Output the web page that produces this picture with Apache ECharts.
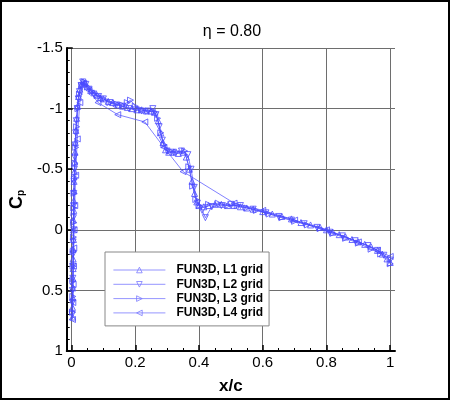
<!DOCTYPE html>
<html>
<head>
<meta charset="utf-8">
<script src="https://cdn.jsdelivr.net/npm/echarts@6/dist/echarts.min.js"></script>
<style>
html,body{margin:0;padding:0;background:#fff;}
#wrap{position:relative;width:450px;height:400px;}
#chart{width:450px;height:400px;}
#frame{position:absolute;left:0;top:0;width:450px;height:400px;box-sizing:border-box;border:2px solid #000;pointer-events:none;}
</style>
</head>
<body>
<div id="wrap"><div id="chart"></div><div id="frame"></div></div>
<script>
// ---- data (x/c, Cp) ----
const titleText = 'η = 0.80';
const seriesNames = ['FUN3D, L1 grid', 'FUN3D, L2 grid', 'FUN3D, L3 grid', 'FUN3D, L4 grid'];
const xTickLabels = [0, 0.2, 0.4, 0.6, 0.8, 1];
const xMinorTicks = [0.05, 0.1, 0.15, 0.25, 0.3, 0.35, 0.45, 0.5, 0.55, 0.65, 0.7, 0.75, 0.85, 0.9, 0.95];

const l1X = [0.003,0.003,0.004,0.004,0.004,0.005,0.005,0.005,0.006,0.006,0.006,0.007,0.007,0.008,0.008,0.009,0.01,0.011,0.012,0.014,0.016,0.019,0.022,0.026,0.031,0.036,
  0.042,0.05,0.06,0.07,0.08,0.09,0.1,0.115,0.13,0.145,0.16,0.175,0.19,0.205,0.22,0.235,0.25,0.262,0.272,0.28,0.287,0.295,0.305,0.32,0.335,0.35,0.36,0.37,0.378,0.386,0.393,0.4,0.415,0.43,0.45,0.47,0.49,0.51,0.53,0.55,0.57,0.6,0.63,0.66,0.69,0.72,0.75,0.78,0.8,0.82,0.84,0.86,0.88,0.9,0.92,0.94,0.96,0.975,0.99,1.0];
const l1Cp = [0.72,0.64,0.56,0.48,0.40,0.32,0.24,0.16,0.08,0.0,-0.08,-0.16,-0.24,-0.32,-0.40,-0.48,-0.56,-0.64,-0.72,-0.82,-0.92,-1.02,-1.1,-1.16,-1.2,-1.22,
  -1.21,-1.18,-1.15,-1.13,-1.11,-1.09,-1.08,-1.06,-1.05,-1.03,-1.02,-1.01,-1.0,-0.99,-0.99,-0.98,-0.98,-0.97,-0.9,-0.8,-0.72,-0.66,-0.64,-0.64,-0.63,-0.64,-0.6,-0.5,-0.4,-0.3,-0.23,-0.2,-0.19,-0.2,-0.21,-0.21,-0.2,-0.2,-0.19,-0.18,-0.17,-0.15,-0.13,-0.11,-0.09,-0.06,-0.04,-0.02,0.0,0.02,0.04,0.06,0.08,0.1,0.12,0.14,0.17,0.2,0.24,0.27];

const l2X = [0.002,0.003,0.003,0.004,0.004,0.005,0.005,0.006,0.006,0.007,0.007,0.008,0.009,0.01,0.011,0.013,0.015,0.018,0.021,0.025,0.03,0.035,
  0.045,0.055,0.07,0.085,0.1,0.12,0.14,0.16,0.18,0.2,0.22,0.24,0.255,0.265,0.275,0.285,0.3,0.32,0.345,0.365,0.375,0.385,0.395,0.41,0.42,0.44,0.47,0.5,0.53,0.57,0.61,0.65,0.69,0.73,0.77,0.81,0.85,0.89,0.93,0.96,0.98,1.0];
const l2Cp = [0.7,0.6,0.5,0.4,0.3,0.2,0.1,0.0,-0.1,-0.2,-0.3,-0.4,-0.5,-0.6,-0.7,-0.8,-0.9,-1.0,-1.08,-1.14,-1.19,-1.22,
  -1.2,-1.16,-1.12,-1.1,-1.08,-1.05,-1.03,-1.02,-1.0,-0.99,-0.98,-0.98,-1.0,-0.95,-0.85,-0.74,-0.65,-0.64,-0.65,-0.62,-0.5,-0.35,-0.22,-0.16,-0.1,-0.19,-0.2,-0.21,-0.2,-0.17,-0.14,-0.11,-0.08,-0.05,-0.02,0.02,0.05,0.09,0.13,0.17,0.21,0.25];

const l3X = [0.003,0.004,0.004,0.005,0.005,0.006,0.006,0.007,0.008,0.009,0.011,0.013,0.016,0.02,0.025,0.032,0.04,
  0.05,0.065,0.08,0.1,0.12,0.14,0.16,0.175,0.185,0.2,0.22,0.24,0.26,0.27,0.28,0.29,0.31,0.33,0.355,0.368,0.38,0.39,0.4,0.43,0.46,0.49,0.52,0.55,0.58,0.62,0.66,0.7,0.74,0.78,0.82,0.86,0.9,0.94,0.97,1.0];
const l3Cp = [0.68,0.55,0.42,0.3,0.18,0.06,-0.06,-0.18,-0.3,-0.42,-0.55,-0.68,-0.85,-1.0,-1.12,-1.19,-1.22,
  -1.18,-1.14,-1.11,-1.08,-1.05,-1.04,-1.03,-1.05,-1.07,-1.02,-0.99,-0.98,-0.97,-0.92,-0.8,-0.7,-0.65,-0.64,-0.65,-0.52,-0.36,-0.25,-0.2,-0.21,-0.22,-0.2,-0.2,-0.18,-0.16,-0.13,-0.1,-0.07,-0.04,-0.01,0.03,0.07,0.11,0.16,0.2,0.28];

const l4X = [0.003,0.004,0.005,0.006,0.007,0.008,0.01,0.013,0.018,0.026,0.038,
  0.055,0.083,0.145,0.23,0.29,0.35,0.51,0.6,0.7,0.8,0.9,0.96,1.0];
const l4Cp = [0.74,0.6,0.45,0.3,0.15,0.0,-0.2,-0.45,-0.75,-1.05,-1.21,
  -1.15,-1.05,-0.95,-0.89,-0.68,-0.48,-0.22,-0.16,-0.08,0.0,0.1,0.17,0.22];

const seriesX = [l1X, l2X, l3X, l4X];
const seriesCp = [l1Cp, l2Cp, l3Cp, l4Cp];

// ---- styling ----
const FONT = '"Liberation Sans", Arial, Helvetica, sans-serif';
const BLUE = '#4a4aff';
const LEG_BLUE = '#7a7aff';
const symbols = [
  'path://M5,0L10,10L0,10Z',   // up
  'path://M0,0L10,0L5,10Z',    // down
  'path://M0,0L10,5L0,10Z',    // right
  'path://M10,0L0,5L10,10Z'    // left
];

const chart = echarts.init(document.getElementById('chart'), null, {renderer: 'canvas'});

const series = seriesNames.map((name, i) => ({
  name: name,
  type: 'line',
  xAxisIndex: 0,
  yAxisIndex: 0,
  data: seriesX[i].map((x, j) => [x, seriesCp[i][j]]),
  symbol: symbols[i],
  symbolSize: 6,
  symbolKeepAspect: false,
  showAllSymbol: true,
  lineStyle: {color: BLUE, width: 0.7},
  itemStyle: {color: 'rgba(255,255,255,0)', borderColor: BLUE, borderWidth: 0.8},
  emphasis: {disabled: true},
  animation: false,
  z: 3
}));

const option = {
  animation: false,
  backgroundColor: '#fff',
  textStyle: {fontFamily: FONT},
  title: {
    text: titleText,
    left: 227,
    top: 19,
    textAlign: 'center',
    textStyle: {fontFamily: FONT, fontSize: 16, fontWeight: 'normal', color: '#000'}
  },
  grid: {left: 60, right: 55, top: 48, bottom: 45, containLabel: false},
  legend: {
    left: 105,
    top: 252,
    orient: 'vertical',
    data: seriesNames,
    itemWidth: 52,
    itemHeight: 7,
    itemGap: 0.3,
    padding: [11, 6, 6, 8],
    borderColor: '#888',
    borderWidth: 1,
    backgroundColor: '#fff',
    lineStyle: {color: LEG_BLUE, width: 0.8},
    itemStyle: {color: 'rgba(255,255,255,0)', borderColor: LEG_BLUE, borderWidth: 0.8},
    textStyle: {fontFamily: FONT, fontSize: 12, lineHeight: 14, fontWeight: 'bold', color: '#000', padding: [0, 0, 0, 6]},
    selectedMode: false,
    z: 10
  },
  xAxis: [{
    type: 'value',
    min: -0.015,
    max: 1.015,
    position: 'bottom',
    name: 'x/c',
    nameLocation: 'middle',
    nameGap: 27,
    nameTextStyle: {fontFamily: FONT, fontSize: 17, fontWeight: 'bold', color: '#000'},
    axisLine: {show: true, onZero: false, lineStyle: {color: '#000', width: 2}},
    axisTick: {show: true, inside: true, length: 6, customValues: xTickLabels, lineStyle: {color: '#000', width: 1.5}},
    axisLabel: {show: true, customValues: xTickLabels, margin: 4, fontFamily: FONT, fontSize: 15, color: '#000'},
    splitLine: {show: true, lineStyle: {color: '#6e6e6e', width: 1}}
  }, {
    type: 'value',
    min: -0.015,
    max: 1.015,
    position: 'bottom',
    offset: 0,
    axisLine: {show: false, onZero: false},
    axisTick: {show: true, inside: true, length: 3, customValues: xMinorTicks, lineStyle: {color: '#000', width: 1}},
    axisLabel: {show: false},
    splitLine: {show: false}
  }],
  yAxis: {
    type: 'value',
    min: -1.5,
    max: 1,
    interval: 0.5,
    inverse: true,
    name: '{c|C}{p|p}',
    nameLocation: 'middle',
    nameRotate: 90,
    nameGap: 34,
    nameTextStyle: {
      rich: {
        c: {fontFamily: FONT, fontSize: 18, fontWeight: 'bold', color: '#000'},
        p: {fontFamily: FONT, fontSize: 10, fontWeight: 'bold', color: '#000', verticalAlign: 'bottom', padding: [8, 0, 0, 0]}
      }
    },
    axisLine: {show: true, onZero: false, lineStyle: {color: '#000', width: 2}},
    axisTick: {show: true, inside: true, length: 6, lineStyle: {color: '#000', width: 1.5}},
    minorTick: {show: true, splitNumber: 5, length: 3, lineStyle: {color: '#000', width: 1}},
    axisLabel: {margin: 4, fontFamily: FONT, fontSize: 15, color: '#000'},
    splitLine: {show: true, lineStyle: {color: '#6e6e6e', width: 1}}
  },
  series: series
};

chart.setOption(option);
</script>
</body>
</html>
